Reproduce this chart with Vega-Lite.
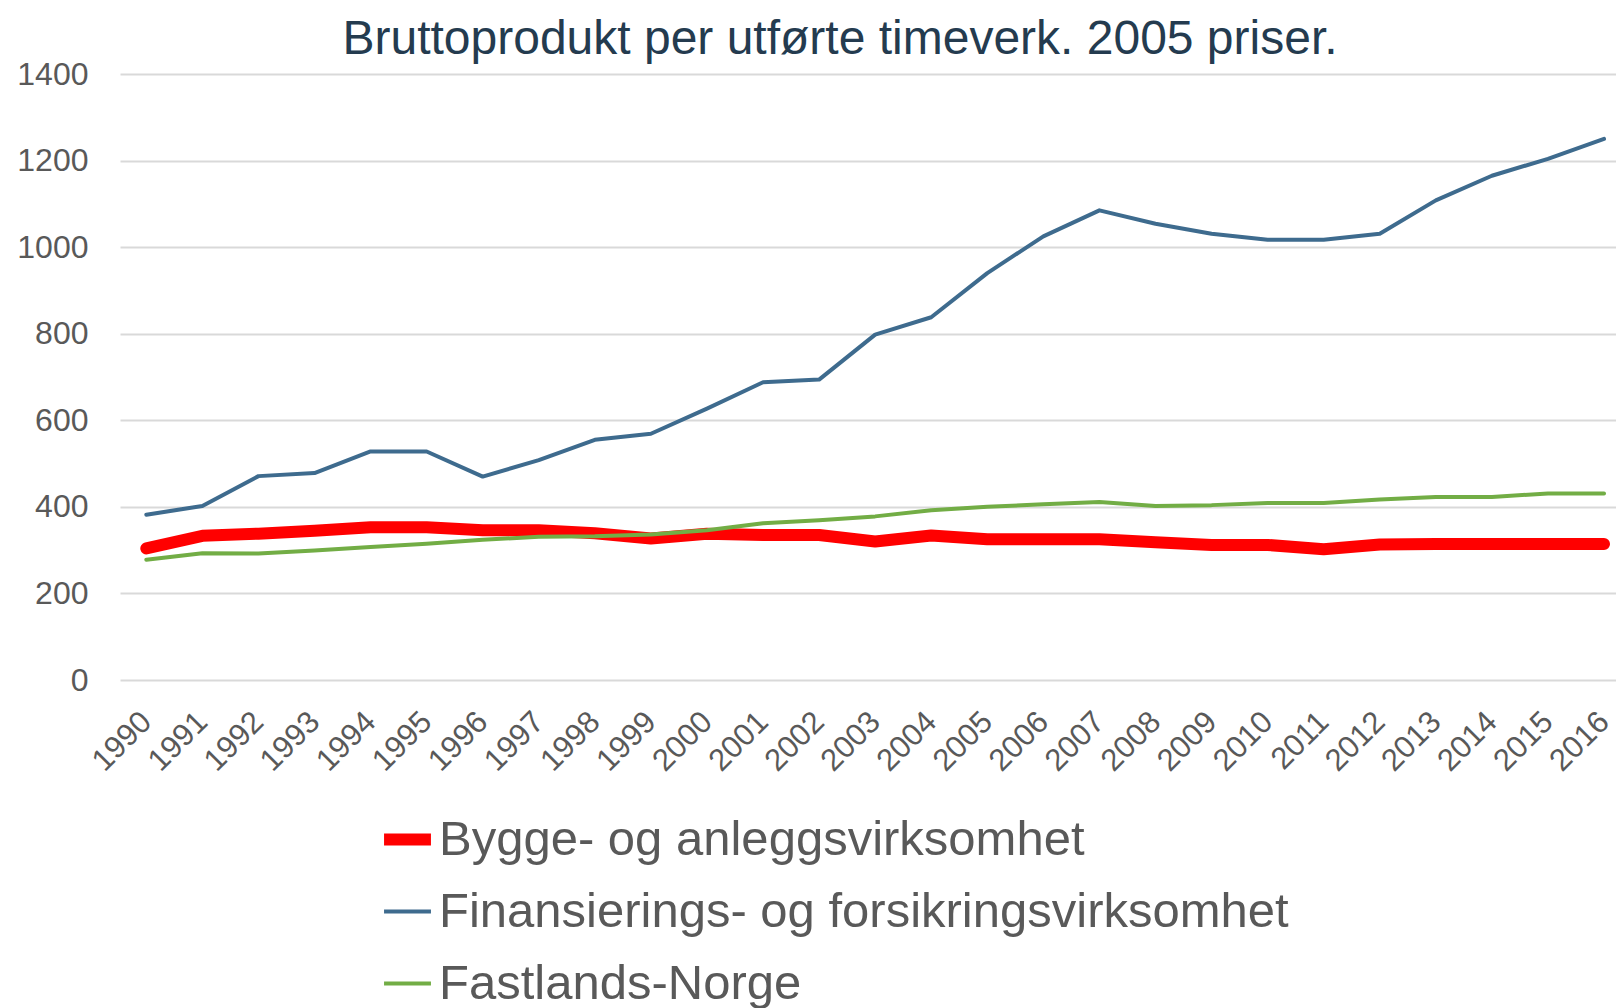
{
  "$schema": "https://vega.github.io/schema/vega-lite/v6.json",
  "width": 1496,
  "height": 606,
  "autosize": {"type": "none"},
  "padding": {"left": 120, "top": 74, "right": 0, "bottom": 328},
  "background": "white",
  "title": {
    "text": "Bruttoprodukt per utførte timeverk. 2005 priser.",
    "font": "Liberation Sans",
    "fontSize": 48,
    "fontWeight": "normal",
    "color": "#243b4f",
    "anchor": "middle",
    "frame": "group",
    "dx": -28,
    "offset": -6
  },
  "data": {
    "values": [
      {"year": "1990", "serie": "Bygge- og anleggsvirksomhet", "verdi": 304},
      {"year": "1991", "serie": "Bygge- og anleggsvirksomhet", "verdi": 333},
      {"year": "1992", "serie": "Bygge- og anleggsvirksomhet", "verdi": 338},
      {"year": "1993", "serie": "Bygge- og anleggsvirksomhet", "verdi": 345},
      {"year": "1994", "serie": "Bygge- og anleggsvirksomhet", "verdi": 353},
      {"year": "1995", "serie": "Bygge- og anleggsvirksomhet", "verdi": 353},
      {"year": "1996", "serie": "Bygge- og anleggsvirksomhet", "verdi": 346},
      {"year": "1997", "serie": "Bygge- og anleggsvirksomhet", "verdi": 346},
      {"year": "1998", "serie": "Bygge- og anleggsvirksomhet", "verdi": 339},
      {"year": "1999", "serie": "Bygge- og anleggsvirksomhet", "verdi": 327},
      {"year": "2000", "serie": "Bygge- og anleggsvirksomhet", "verdi": 338},
      {"year": "2001", "serie": "Bygge- og anleggsvirksomhet", "verdi": 335},
      {"year": "2002", "serie": "Bygge- og anleggsvirksomhet", "verdi": 335},
      {"year": "2003", "serie": "Bygge- og anleggsvirksomhet", "verdi": 320},
      {"year": "2004", "serie": "Bygge- og anleggsvirksomhet", "verdi": 334},
      {"year": "2005", "serie": "Bygge- og anleggsvirksomhet", "verdi": 325},
      {"year": "2006", "serie": "Bygge- og anleggsvirksomhet", "verdi": 325},
      {"year": "2007", "serie": "Bygge- og anleggsvirksomhet", "verdi": 325},
      {"year": "2008", "serie": "Bygge- og anleggsvirksomhet", "verdi": 318},
      {"year": "2009", "serie": "Bygge- og anleggsvirksomhet", "verdi": 312},
      {"year": "2010", "serie": "Bygge- og anleggsvirksomhet", "verdi": 312},
      {"year": "2011", "serie": "Bygge- og anleggsvirksomhet", "verdi": 302},
      {"year": "2012", "serie": "Bygge- og anleggsvirksomhet", "verdi": 313},
      {"year": "2013", "serie": "Bygge- og anleggsvirksomhet", "verdi": 314},
      {"year": "2014", "serie": "Bygge- og anleggsvirksomhet", "verdi": 314},
      {"year": "2015", "serie": "Bygge- og anleggsvirksomhet", "verdi": 314},
      {"year": "2016", "serie": "Bygge- og anleggsvirksomhet", "verdi": 314},
      {"year": "1990", "serie": "Finansierings- og forsikringsvirksomhet", "verdi": 382},
      {"year": "1991", "serie": "Finansierings- og forsikringsvirksomhet", "verdi": 402},
      {"year": "1992", "serie": "Finansierings- og forsikringsvirksomhet", "verdi": 471},
      {"year": "1993", "serie": "Finansierings- og forsikringsvirksomhet", "verdi": 478},
      {"year": "1994", "serie": "Finansierings- og forsikringsvirksomhet", "verdi": 528},
      {"year": "1995", "serie": "Finansierings- og forsikringsvirksomhet", "verdi": 528},
      {"year": "1996", "serie": "Finansierings- og forsikringsvirksomhet", "verdi": 470},
      {"year": "1997", "serie": "Finansierings- og forsikringsvirksomhet", "verdi": 508},
      {"year": "1998", "serie": "Finansierings- og forsikringsvirksomhet", "verdi": 555},
      {"year": "1999", "serie": "Finansierings- og forsikringsvirksomhet", "verdi": 569},
      {"year": "2000", "serie": "Finansierings- og forsikringsvirksomhet", "verdi": 627},
      {"year": "2001", "serie": "Finansierings- og forsikringsvirksomhet", "verdi": 688},
      {"year": "2002", "serie": "Finansierings- og forsikringsvirksomhet", "verdi": 694},
      {"year": "2003", "serie": "Finansierings- og forsikringsvirksomhet", "verdi": 798},
      {"year": "2004", "serie": "Finansierings- og forsikringsvirksomhet", "verdi": 838},
      {"year": "2005", "serie": "Finansierings- og forsikringsvirksomhet", "verdi": 940},
      {"year": "2006", "serie": "Finansierings- og forsikringsvirksomhet", "verdi": 1025},
      {"year": "2007", "serie": "Finansierings- og forsikringsvirksomhet", "verdi": 1085},
      {"year": "2008", "serie": "Finansierings- og forsikringsvirksomhet", "verdi": 1054},
      {"year": "2009", "serie": "Finansierings- og forsikringsvirksomhet", "verdi": 1031},
      {"year": "2010", "serie": "Finansierings- og forsikringsvirksomhet", "verdi": 1017},
      {"year": "2011", "serie": "Finansierings- og forsikringsvirksomhet", "verdi": 1017},
      {"year": "2012", "serie": "Finansierings- og forsikringsvirksomhet", "verdi": 1031},
      {"year": "2013", "serie": "Finansierings- og forsikringsvirksomhet", "verdi": 1108},
      {"year": "2014", "serie": "Finansierings- og forsikringsvirksomhet", "verdi": 1165},
      {"year": "2015", "serie": "Finansierings- og forsikringsvirksomhet", "verdi": 1204},
      {"year": "2016", "serie": "Finansierings- og forsikringsvirksomhet", "verdi": 1250},
      {"year": "1990", "serie": "Fastlands-Norge", "verdi": 278},
      {"year": "1991", "serie": "Fastlands-Norge", "verdi": 293},
      {"year": "1992", "serie": "Fastlands-Norge", "verdi": 292},
      {"year": "1993", "serie": "Fastlands-Norge", "verdi": 299},
      {"year": "1994", "serie": "Fastlands-Norge", "verdi": 307},
      {"year": "1995", "serie": "Fastlands-Norge", "verdi": 315},
      {"year": "1996", "serie": "Fastlands-Norge", "verdi": 324},
      {"year": "1997", "serie": "Fastlands-Norge", "verdi": 331},
      {"year": "1998", "serie": "Fastlands-Norge", "verdi": 332},
      {"year": "1999", "serie": "Fastlands-Norge", "verdi": 336},
      {"year": "2000", "serie": "Fastlands-Norge", "verdi": 346},
      {"year": "2001", "serie": "Fastlands-Norge", "verdi": 362},
      {"year": "2002", "serie": "Fastlands-Norge", "verdi": 369},
      {"year": "2003", "serie": "Fastlands-Norge", "verdi": 378},
      {"year": "2004", "serie": "Fastlands-Norge", "verdi": 392},
      {"year": "2005", "serie": "Fastlands-Norge", "verdi": 400},
      {"year": "2006", "serie": "Fastlands-Norge", "verdi": 406},
      {"year": "2007", "serie": "Fastlands-Norge", "verdi": 411},
      {"year": "2008", "serie": "Fastlands-Norge", "verdi": 402},
      {"year": "2009", "serie": "Fastlands-Norge", "verdi": 404},
      {"year": "2010", "serie": "Fastlands-Norge", "verdi": 409},
      {"year": "2011", "serie": "Fastlands-Norge", "verdi": 409},
      {"year": "2012", "serie": "Fastlands-Norge", "verdi": 417},
      {"year": "2013", "serie": "Fastlands-Norge", "verdi": 423},
      {"year": "2014", "serie": "Fastlands-Norge", "verdi": 423},
      {"year": "2015", "serie": "Fastlands-Norge", "verdi": 431},
      {"year": "2016", "serie": "Fastlands-Norge", "verdi": 431}
    ]
  },
  "mark": {"type": "line", "strokeCap": "round", "strokeJoin": "round"},
  "encoding": {
    "x": {
      "field": "year",
      "type": "ordinal",
      "scale": {"type": "point", "padding": 0.3415, "align": 0.687},
      "axis": {
        "title": null,
        "domain": false,
        "ticks": false,
        "grid": false,
        "labelAngle": -45,
        "labelAlign": "right",
        "labelBaseline": "middle",
        "labelPadding": 37,
        "labelFont": "Liberation Sans",
        "labelFontSize": 31,
        "labelColor": "#595959"
      }
    },
    "y": {
      "field": "verdi",
      "type": "quantitative",
      "scale": {"domain": [0, 1400], "nice": false},
      "axis": {
        "title": null,
        "domain": false,
        "ticks": false,
        "format": "d",
        "values": [0, 200, 400, 600, 800, 1000, 1200, 1400],
        "grid": true,
        "gridColor": "#d9d9d9",
        "gridWidth": 2,
        "labelPadding": 32,
        "labelFont": "Liberation Sans",
        "labelFontSize": 32,
        "labelColor": "#595959"
      }
    },
    "color": {
      "field": "serie",
      "type": "nominal",
      "scale": {
        "domain": ["Bygge- og anleggsvirksomhet", "Finansierings- og forsikringsvirksomhet", "Fastlands-Norge"],
        "range": ["#ff0000", "#3e6b8e", "#72ad45"]
      },
      "legend": {
        "title": null,
        "orient": "none",
        "legendX": 258,
        "legendY": 736,
        "direction": "vertical",
        "padding": 0,
        "symbolType": "stroke",
        "symbolSize": 2200,
        "labelFont": "Liberation Sans",
        "labelFontSize": 49,
        "labelColor": "#595959",
        "labelOffset": 2,
        "labelLimit": 0,
        "rowPadding": 21
      }
    },
    "strokeWidth": {
      "field": "serie",
      "type": "nominal",
      "scale": {
        "type": "ordinal",
        "domain": ["Bygge- og anleggsvirksomhet", "Finansierings- og forsikringsvirksomhet", "Fastlands-Norge"],
        "range": [12, 4, 4]
      },
      "legend": {
        "title": null,
        "orient": "none",
        "legendX": 258,
        "legendY": 736,
        "direction": "vertical",
        "padding": 0,
        "symbolType": "stroke",
        "symbolSize": 2200,
        "labelFont": "Liberation Sans",
        "labelFontSize": 49,
        "labelColor": "#595959",
        "labelOffset": 2,
        "labelLimit": 0,
        "rowPadding": 21
      }
    }
  },
  "config": {
    "view": {"stroke": null},
    "font": "Liberation Sans"
  }
}
